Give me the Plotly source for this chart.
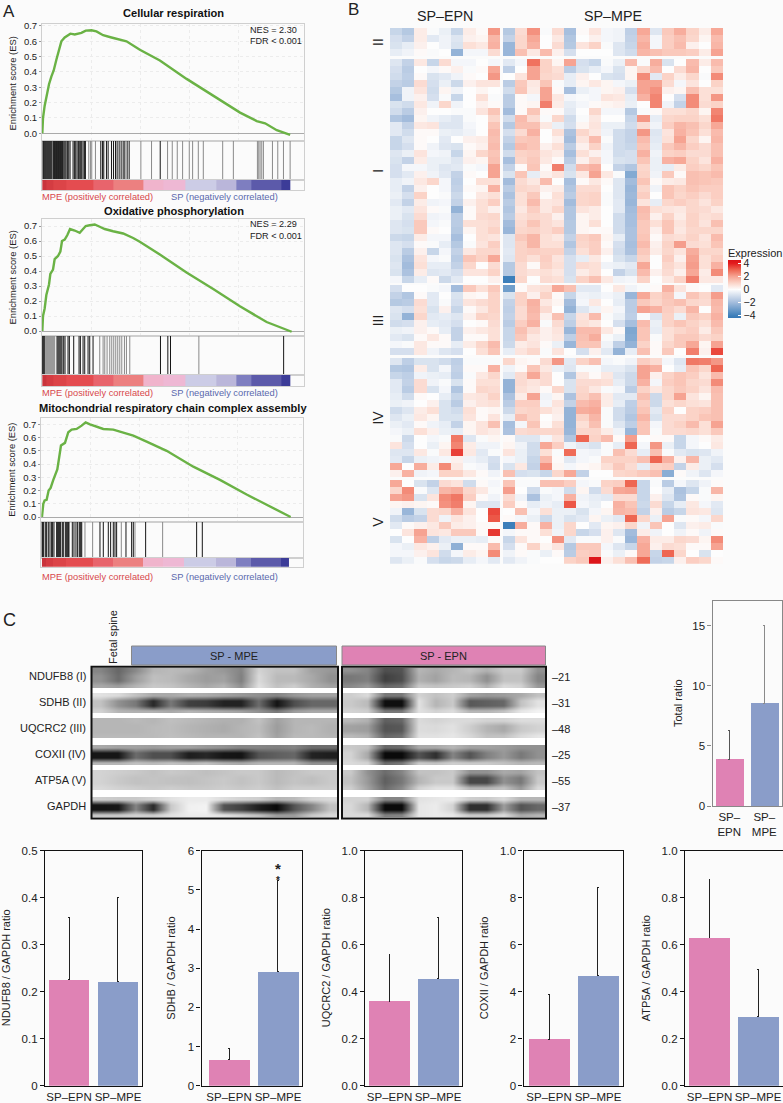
import plotly.graph_objects as go

W, H = 783, 1103
BG = "#fbfbfb"
FONT = "Liberation Sans"
PINK, BLUE = "#df82b4", "#8a9dc9"

# ---------- Panel A data ----------
es_titles = ["Cellular respiration", "Oxidative phosphorylation", "Mitochondrial respiratory chain complex assembly"]
es_nes = ["NES = 2.30", "NES = 2.29", ""]
es_fdr = ["FDR < 0.001", "FDR < 0.001", ""]

es1_rank = [0,2,7,12,20,27,34,42,50,57,67,84,97,117,130,147,162,182,207,237,252,292,352,432,512,592,642,667,702,742]
es1_val = [0,.10,.18,.24,.32,.37,.41,.48,.54,.60,.625,.65,.645,.655,.67,.672,.665,.64,.625,.605,.60,.545,.475,.355,.245,.135,.08,.065,.02,-.01]
es2_rank = [0,2,7,12,20,24,32,37,47,54,59,67,75,83,97,112,122,130,142,157,172,187,212,242,272,292,352,432,512,592,672,722,747]
es2_val = [0,.10,.15,.24,.31,.38,.41,.48,.50,.53,.60,.61,.64,.68,.67,.655,.68,.70,.705,.71,.695,.68,.665,.65,.62,.595,.51,.39,.28,.165,.06,.015,-.005]
es3_rank = [0,4,8,14,20,26,34,39,46,51,57,69,79,89,104,119,131,144,164,184,214,244,274,314,374,454,534,614,674,746]
es3_val = [0,.10,.125,.13,.20,.22,.28,.32,.36,.44,.54,.56,.64,.66,.665,.69,.715,.70,.68,.665,.66,.64,.615,.57,.50,.38,.28,.17,.09,0]

rug1_dark = [2,4,7,10,13,16,19,22,25,28,32,34,36,38,40,42,44,46,48,50,52,54,56,58,60,62,65,68,71,75,79,83,92,96,100,104,108,112,115,118,122,126,129,175,180,184,192,197,207,213,219,224,230,236,242,247,254,260,353]
rug1_gray = [139,144,148,159,295,327,375,389,404,420,440,450,467,482,540,572,644,648,652,657,662,689,705,722,742]
rug2_dark = [0,3,6,44,47,50,53,56,59,64,68,77,81,94,110,114,122,127,137,142,152,354,376,384,723]
rug2_gray = [10,13,16,19,22,25,28,31,34,37,172,182,187,194,202,208,214,220,226,232,238,246,252,262,469]
rug3_dark = [0,2,5,10,14,19,24,29,32,36,44,47,50,53,56,61,64,70,73,76,79,81,91,96,102,107,112,115,118,174,184,199,206,214,219,224,252,269,274,311,464,481]
rug3_gray = [120,129,152,238,279,362]

strip_edges = [0,12,32,72,152,212,302,362,427,522,582,627,717,742]
strip_metric = [6,5,4,3,2,1,0,-1,-2,-3,-4,-5,-6]
strip_colors = ["#3c3c98","#5c5aaa","#7e7ec0","#bab6da","#cccce6","#eeb8d4","#f0b4cc","#ec8080","#e8646c","#e44c50","#dc4448","#d43c42","#c9343c"]

# ---------- Panel B data: rows hand-read, 9 SP-EPN then 18 SP-MPE columns ----------
hm_II = [
[-1.2,-1.6,.4,-.1,-.4,-1.2,.4,.1,2.2,-1.6,.8,2.3,-.1,.8,-1.9,.1,.6,-.2,-.3,-1.4,1.9,-.7,1.2,1.8,1.0,.4,1.9],
[-.9,-1.3,.4,-.6,-.3,-.7,.3,.2,1.6,-1.3,.9,1.9,0,.5,-1.7,0,.3,-.2,-.3,-1.3,1.6,-.2,1.1,1.4,.9,.2,1.5],
[-.8,-.5,.3,0,-.3,-.8,.7,.5,1.7,-2.2,.9,1.7,0,.8,-1.6,.6,1,-.1,-.7,-1.2,1.8,-.2,1.1,1.5,.3,0,1.6],
[-.5,-.3,.1,-.1,0,-2.3,-.2,-.2,.8,-2.2,1.4,.5,1.5,.3,-.9,0,0,0,-.7,-1.0,1.6,1.4,1.2,1.2,1.1,.4,2.0],
]
hm_I = [
[-.7,-1.3,.5,-1.2,.8,-.2,-.2,0,-.2,-.6,-.2,2.8,1.0,.2,2.0,-.9,-1.2,-.1,-.4,1.5,-.1,1.8,-.8,0,1.5,.4,1.5],
[-.9,-1.5,0,-.2,.1,.3,-.1,.1,1.9,-1.4,0,2,1,.7,-1.5,-.8,-.5,-.2,-.8,.2,.9,1.5,0,.8,1.6,0,1.2],
[-1,-1.4,.1,-.8,-.6,-.3,.1,0,2.2,0,.6,2,.9,.8,-.5,.3,0,-.8,-.9,.2,2.4,-.6,1,.4,.9,-.1,2.4],
[-1.3,-1.5,.8,-.9,-.4,-1.1,.3,.6,.6,-1.5,1.2,.5,1.3,-.1,-.5,.2,.5,.2,-.2,-.4,2,2,.8,-.2,.6,0,1],
[-1.6,-.3,.6,-1,.2,-.3,0,.2,0,-1,1.3,.4,2,.1,-1.9,-.4,-.2,.2,.3,-.9,2.0,2.3,.3,.2,1.4,.7,.7],
[-1.9,-.3,.3,-.9,-.1,-1.2,0,.7,-.1,-1.5,.1,-.2,2,.5,-.2,-.1,-.2,.6,.5,-.5,1.7,2.5,0,-.9,2.4,.7,2.2],
[-.8,-1,.5,-.3,.9,-.3,0,.3,.1,-1.5,.1,.2,2.6,.4,-.5,-.2,.1,.2,.3,-.4,0,2.5,-.3,-1.3,2.4,.8,1],
[-1,-1.5,.3,0,0,-.1,-.1,.6,1.3,-2,.1,1.3,.1,.1,-.6,0,.9,-.2,-.2,-1.6,-.1,.1,.7,.7,.9,.2,2.5],
[-1.7,-2,.2,-.3,-.5,-.7,-.1,0,.9,-1,1.5,.8,-.1,.9,-1,-.1,.5,0,0,-1.2,2.2,-.5,.9,1,1,.7,2.7],
[-.6,-1.3,.5,.6,-.7,-.7,-.2,0,1.3,-1.6,1.4,1.4,.5,-.4,-.9,.2,.6,-.4,-.4,-1,.8,-.3,1.1,1.6,1.4,.9,1.9],
[-.6,-1,.1,.1,-.4,-.5,-.3,0,1.5,-.9,.8,1.7,0,.7,-1.8,.9,.5,-.3,-1,-1.3,2.2,-.7,.6,1.7,1.3,.7,1.5],
[-1.2,-.7,.1,0,-.6,0,.3,.4,1.4,-1.3,1.2,1.3,0,.3,-2,.6,1.5,-.1,-1,-1.3,1.5,-.6,.7,2,.9,.2,1.6],
[-1.2,-.9,.1,-.3,-.7,-.8,.1,.3,1.5,-1.6,1.5,1.3,.3,.7,-1.5,.3,1,-.3,-1,-1.2,1.3,-.5,1.2,1.6,1.1,.8,1.4],
[-.7,-.4,.6,-.2,-.3,-1.2,.2,.9,1.3,-1,1,1.1,.6,.4,-1.9,.7,.3,-.2,-1,-.9,1.7,-.3,1,1.1,.8,.8,1.4],
[-.8,-1.3,.4,-.4,-.4,-.7,.3,.2,1.4,-1.9,.9,1.2,.5,.1,-1.5,.3,.9,-.2,-.8,-.9,1.3,-.4,1.7,1.9,1,.6,1.7],
[-.9,-.2,-.2,-.4,-.7,-.6,-.1,-.2,2,-1.3,.1,1.3,.1,2.6,-1,1.5,1.7,0,-1.3,-1.7,.9,-.4,-.5,.4,1.1,.9,1.3],
[-.9,-.6,.3,-.3,-.6,-1.3,.1,0,2,-.8,1.3,-.5,.3,.6,-.8,.5,2,.5,-.1,-2.6,1,-.3,1.2,.1,1.4,1.3,1.5],
[-.5,-.3,.5,.9,-.2,-1.4,0,.7,.7,-2,.8,.5,1.5,0,-1.9,.1,.5,.1,-.7,-2,1.3,.1,.4,.5,1.4,1.3,1.2],
[-.5,-1.3,.3,0,-.2,-1.3,.1,.2,1.7,-1.5,.9,.8,.3,.4,-1.7,.8,.8,0,-.7,-2.2,.9,-.3,1.3,1,1.3,1.1,1.1],
[-.4,-.9,1,0,-.1,-1.1,0,.5,.7,-1.8,.7,1.2,.1,.7,-1.5,.9,1,-.1,-.7,-2.1,1.1,0,1.3,.9,1.1,.8,1.1],
[-.6,-1.3,.4,-.3,-.2,-1.3,.3,.7,1.1,-1.5,.7,1.5,.5,.6,-2,.9,1,-.1,-.6,-2.2,.6,-.5,.9,1.1,.9,.6,1],
[-.4,-.6,.6,.1,-.1,-2.3,.1,.7,.3,-1.7,.5,1.1,.5,.9,-1.7,.6,.4,0,-.6,-2,1.5,.7,.6,.5,.9,.8,.5],
[-.4,-.8,.8,-.3,-.2,-1.5,.1,.8,.9,-1.5,.7,.9,.8,.3,-1.7,.2,.4,0,-1,-1.9,1.4,.3,1,.4,1,.7,.8],
[-.7,-.9,1.2,-.2,-.1,-1.5,.7,.7,.8,-2,.8,1.3,.8,.6,-1.6,.2,.7,0,-1,-1.9,1.2,.7,1.3,.6,1,.6,1.4],
[-.7,-.8,1.2,.1,0,-1.6,.2,.7,1,-2.2,.9,1,.8,1.1,-1.6,.2,.1,.1,-1,-1.8,1.2,.3,1.3,.5,.9,.9,.9],
[-1.1,-1.2,.4,-.2,-.2,-1.9,0,.7,.6,-.7,1.2,1.6,.7,.5,-1.3,1,1.2,.2,-.5,-1.8,1.3,.1,.8,.7,1,.6,1.5],
[-.7,-.9,.1,-.1,-.5,-1.6,-.1,.6,1.1,-.7,1,1.6,.7,.7,-1.7,.9,1.1,.1,-.9,-1.9,1.5,.3,1,2.1,.8,.7,1.3],
[-.7,-1.5,.3,-1.2,-.2,-1.3,.5,.9,.9,-.6,1,1.1,1,1,-1.3,.7,1.1,.3,-1,-1.8,1.2,.4,.9,.6,1.8,.9,.9],
[-.8,-1.8,.6,-.2,-.1,-1.5,1.3,1,1.9,-.7,1,.7,1.1,.6,-.9,-.5,.5,0,-.8,-1.2,1,0,1.1,.3,2,.7,1.1],
[-.7,-2,.7,-.5,-.5,-1.3,.9,0,.8,-1.6,.8,.1,1,.7,-.9,.8,.7,-.3,-.4,-.6,1.9,0,.9,.6,2.1,.7,1.7],
[-.8,-1.8,.4,-.7,-.6,-.9,.6,.6,1,-1.6,.8,.6,.7,.5,-.9,.4,.7,0,-1.3,-.8,1.5,.3,.8,.3,1.9,.4,2.4],
[-.2,-1.2,-.5,.1,-1.1,-.6,0,0,.3,-4,.9,0,.8,.7,-.8,1,1.4,.5,-.3,-.2,1,0,.5,1,2.6,.5,.5],
]
hm_III = [
[-.9,0,0,-.1,-.2,-2,1.2,.7,1.2,-3,.1,.6,.7,1.9,1.4,-.6,-.6,0,.5,-.3,-.1,.1,1.7,.6,.1,0,-.6],
[-1.3,-1.7,.1,-.6,0,-.8,.2,.1,1,-.8,1,.3,1,.1,-1.2,-.3,-.4,-.2,-.4,-2.2,1.9,1,1.3,-.2,1.3,.9,2.1],
[-1.6,-1.5,.8,-.6,-.1,-.9,.6,.8,1,-1.3,1,1.7,.5,.2,-2,-.2,.5,0,-.5,-1.5,1.2,.9,1.2,1.4,.9,.8,1.6],
[-.7,-.9,.7,-.8,.3,-1.2,.1,.5,1,-1.4,.8,1.6,.8,0,-2.3,-.7,-.3,.2,-.2,-1.5,2,1.7,1.1,.8,1.6,0,1.5],
[-.8,-2.3,.9,-.6,-.5,-.7,.3,1,.9,-1.3,.8,1.5,.3,1.4,-1.2,.6,1.5,-.1,-.4,-1.4,-.1,-.7,1,-.4,1.2,1,1.7],
[-1,-.9,.3,-.5,-.6,-.9,0,.1,.8,-1.5,1.1,1.7,-.1,.8,-1.4,.7,.5,0,-.9,-1.9,1.5,-.4,1,1.3,1,.7,1.5],
[-.4,-.3,.3,.1,-.5,-1.3,.3,.5,.7,-1.2,1.4,.8,.3,.6,-2.2,1.5,1.5,.5,.1,-2.7,1.3,-.5,.7,.9,1.1,.4,1.2],
[-.6,-.8,.1,.5,.1,-1.3,.1,.1,.7,-1.2,1.2,.5,.3,.5,-1.4,1.4,1.8,-.1,-.4,-2.6,1.3,-.1,.7,1.2,1.2,.8,1],
[-.2,-.1,.5,.1,.1,-.5,.4,.9,1.5,-1.1,.4,.6,.1,-.4,-2.2,1.3,1.3,-.3,-1.4,-2.3,1,.1,.9,1.2,1.9,.2,2],
[-.9,-.9,.5,-.3,-.7,-.9,0,.7,1.3,-.5,.6,.9,-.1,.6,0,-.9,.3,-.6,-2.3,-.5,1.4,.1,1.2,0,2.6,.3,3.4],
]
hm_IV = [
[-.7,-1.4,-.8,-.8,-1,-1.4,-.1,-.1,-.1,.9,.2,.1,.8,2.2,-.6,1,1.4,-.2,-.1,-.3,1.1,.8,-.2,-.7,2.7,2.6,2.2],
[-1.6,-1.7,.4,-.8,-.2,-1.3,.1,.1,1.7,-.3,.1,1.3,.5,-.4,-.7,-.1,-.1,-.5,-.5,-.8,2,1.7,0,-.5,1.3,.9,3],
[-1.2,-1.4,-.3,-.4,-.5,-1.4,-.1,.5,.9,-.6,.8,1.9,.8,0,-1.7,.5,.1,.5,-.7,-1.1,2,.3,1,1.3,1.1,.6,1.5],
[-.6,-1.3,.8,-.3,-.1,-.8,.1,.7,.7,-2.3,.8,.6,.8,0,-.8,.8,.8,.7,-.5,-1.1,1.7,-.2,1.1,1.3,.9,.8,2.4],
[-.6,-1.5,.8,-.8,-.2,-1.7,.1,.9,.8,-2.3,.7,.5,.1,.9,-.8,.9,.5,-.1,-.2,-1.5,1,.5,.9,1.2,1,.6,1.5],
[-.5,-1,.1,0,-.5,-1.2,.5,.6,1,-1.8,.4,2,-.3,.2,-1.8,1,1.4,.4,-.6,-.6,1.4,-1.1,.9,2,.6,.2,1.4],
[-.4,-.3,0,.3,-.8,-1.5,.3,.6,.7,-1.5,1.1,1.1,-.2,.6,-1.3,1.5,1.7,.4,-.5,-1.4,1.1,-1.1,.7,.9,.7,.6,1.4],
[-1,-.7,.4,.7,-.8,-1,.7,.1,.2,-1.1,.9,1,.7,.4,-2.3,1.8,1.9,-.1,-1,-1.5,1.3,-.6,1,0,1,1.1,1.4],
[-.7,-.4,.5,.2,-.8,-.8,.6,.1,.6,-.5,1.4,1,0,.3,-2.3,1,1.6,-.1,-1,-1.7,1.6,-.8,.8,.8,1,1.3,1.4],
[-.4,-.6,.1,-.3,-.5,-1.3,.2,.6,1.4,-1.9,-.2,1.3,.1,.7,-2.3,.7,1.4,-.1,-.7,-1.4,1.3,-.2,.8,1,1.5,.7,2],
[-.2,-.4,.7,.3,-.4,-.5,.2,.6,.4,-1.8,.8,.9,.9,.9,-2.2,.9,.9,.4,-.3,-2.2,1.3,-.1,.8,.8,.9,.7,1.2],
[-.1,-1.1,0,-.2,-.1,2.7,-.7,-.1,.2,.1,-.7,-.7,-.2,.6,-1.7,3,1,1.5,.1,2.1,0,.1,.1,-1.2,-.2,.1,.4],
[.6,-.9,0,-.4,.2,2.5,.4,-.3,-.3,.2,-.3,-1,1.9,1.1,-.3,-.6,-.8,-.1,-.5,3,-.2,2.2,-.4,-1.2,-.2,0,.5],
[-.7,-.7,.5,-.1,.5,3.5,.5,-.6,-.1,.6,-.4,-1,.7,-.1,2.9,-.2,-.3,-.1,1.4,.8,-.5,1.4,-.1,-.6,-.8,-.7,-.3],
[-.6,-1.2,-.4,-.3,-.2,.3,-.3,-.5,-.9,-.2,-.4,-1.2,1.5,.1,-.6,-.2,-.1,1,1,1,1.4,3,1.7,.3,1.6,-.4,-.6],
[1.9,0,1.8,.4,2.4,.5,-.1,-.2,-1,-.8,.5,-1.3,2.3,.2,-.2,.1,.2,.7,1.2,.8,-.5,1,1.1,-1.3,.4,-.4,-.9],
[.3,1.7,-.3,-.2,1,1,.5,.1,-.3,1.4,-.9,-.8,-1.2,.9,1.9,-1.3,0,0,.9,1,1.2,1.4,-2.5,.1,-.3,-.7,-.2],
]
hm_V = [
[1.9,0,-.8,-1.3,.8,.6,-1,.1,-.2,1.3,-.1,-.1,1.4,1.4,1.1,-.2,-.1,1.0,1.1,3,-1.2,-.1,-1.5,-.2,-.7,-.3,.1],
[.9,2.4,-.1,-.7,1.6,1.8,.9,.5,-.1,2.1,0,-1,-.1,-.2,-1,.2,-1,.8,1.9,2,-1.2,0,-.5,-1.8,-1.2,-.1,1.6],
[2,2.2,-.8,.6,2.4,2.7,1.1,.1,-.3,.8,-.3,-1.8,-.4,-.2,1.7,-.3,-.5,-.6,.8,.8,-1.2,.3,-.7,-1.7,.1,-.1,.2],
[.2,.3,.2,.1,2.3,2.6,.2,-.7,-.7,1.1,.1,-.5,-.3,-.5,3.2,-.2,-.4,0,1.7,1.3,-1.1,.8,-1.2,-.5,.5,-.2,-.6],
[-.3,-2.2,-.8,.8,.9,1.7,.6,0,3.4,0,1.4,-.2,.7,-.4,-.4,-.8,-.2,.2,1.6,1.5,-1.3,.3,-1.5,-1.2,.6,.5,-.7],
[-1,-1.5,-1.3,.8,-.3,.6,.3,0,3.2,.1,-.2,-.4,-1.1,-.4,-.8,-.6,.2,-.4,-.6,3,.9,-.4,2,-.1,.1,-.2,.9],
[-.6,.1,.3,.5,1.2,.4,.3,.1,.1,-4,1.8,.1,1.7,-.4,.9,0,-.6,.2,.3,.9,-.3,1.3,0,-.7,.3,.4,-.1],
[0,.6,2,.6,.5,1.2,1.2,.1,3.6,-.2,.1,.1,.7,-.3,.9,-1.2,-.9,.3,-.7,-2,.4,-.3,0,-.3,.1,-.3,.1],
[-.8,0,1.7,-1.4,-.6,-.4,-.4,-.5,.1,-1.2,.6,.1,0,2.3,-.6,-.1,-.1,.3,-.1,-2.2,1.7,.4,.4,.9,.8,.2,2.4],
[-.2,-.4,.5,.3,-.4,-2.4,.1,.1,1.5,-.9,.1,1,.2,.6,-1.6,1.2,1.2,-.2,-.7,-1.2,1.9,.3,.8,.7,.1,.1,2],
[-.2,-.2,.3,.6,-1,-.2,.4,.2,2.4,-.3,.1,-.1,-.4,.1,-1.5,1.1,1.2,-.1,-.4,.1,1.9,-1.2,3,.9,0,-.8,0],
[-.7,-.4,-.1,-.9,-1.2,-1.1,-.5,-.2,-.6,-.6,-.3,-.1,0,0,1,1.2,4.3,.3,.7,1.4,2.9,-1.3,-1.2,.3,1.1,.9,.1],
]
hm_clusters = [hm_II, hm_I, hm_III, hm_IV, hm_V]
hm_labels = ["II", "I", "III", "IV", "V"]
for c in hm_clusters:
    for row in c:
        assert len(row) == 27, row

# ---------- Panel C data ----------
blot_proteins = ["NDUFB8 (I)", "SDHB (II)", "UQCRC2 (III)", "COXII (IV)", "ATP5A (V)", "GAPDH"]
blot_weights = ["–21", "–31", "–48", "–25", "–55", "–37"]
# darkness 0-100, three rows (above band, band, below band) per strip
blot_mpe = [
 [[50,62,48,30,28,30,38,42,50,18,25,25,38,42],[45,60,40,26,28,35,40,38,52,15,28,28,35,45],[35,40,30,22,24,30,35,30,45,12,25,20,32,38]],
 [[12,15,25,35,35,32,34,38,42,45,50,42,38,38],[25,45,55,88,55,78,80,90,90,60,96,72,62,62],[18,30,32,32,35,30,33,35,38,45,55,40,35,35]],
 [[30,30,28,30,26,28,30,32,32,25,38,30,30,30],[30,30,30,28,27,30,32,34,30,27,40,30,28,32],[28,28,28,28,26,28,30,30,30,25,38,28,28,30]],
 [[35,38,38,40,38,38,42,45,50,50,52,50,60,60],[95,95,60,72,72,92,88,95,96,70,65,62,90,92],[30,30,25,28,25,28,25,32,35,30,30,30,45,45]],
 [[18,20,22,25,22,24,26,24,22,22,28,25,22,22],[18,22,25,24,25,26,24,22,25,22,28,24,26,22],[15,18,20,22,20,22,22,20,22,20,25,20,20,20]],
 [[20,22,22,18,12,8,8,14,18,20,30,28,18,15],[96,95,50,88,22,6,5,70,78,92,100,70,50,25],[22,22,18,20,12,8,8,12,18,25,40,40,22,15]],
]
blot_epn = [
 [[45,50,72,70,30,35,30,25,32,22,22,45],[55,52,78,72,32,38,28,30,45,25,25,50],[48,42,62,58,22,25,22,20,32,15,18,42]],
 [[20,15,55,55,18,25,20,38,42,40,35,25],[22,28,98,98,12,30,22,68,65,62,25,12],[18,20,55,55,12,18,14,30,30,25,10,5]],
 [[28,32,65,62,15,18,15,15,18,18,14,14],[38,40,70,68,14,15,12,20,30,35,22,18],[28,32,62,58,12,12,10,16,25,25,15,10]],
 [[22,25,62,60,35,35,30,38,38,40,45,45],[18,35,100,100,70,85,50,70,52,42,55,45],[15,18,60,55,22,25,20,22,22,25,30,28]],
 [[22,45,60,50,25,25,22,45,45,35,38,25],[25,42,65,55,30,22,22,75,75,45,55,22],[20,38,60,48,18,12,12,30,30,25,42,15]],
 [[18,18,50,50,12,10,8,20,22,15,30,30],[16,30,100,100,10,8,18,85,85,40,70,62],[15,15,52,50,10,8,10,22,22,15,35,30]],
]
groups = ["SP–EPN", "SP–MPE"]
total_mean, total_top = [3.88, 8.55], [6.3, 15.05]
ndufb8_mean, ndufb8_top = [.225, .222], [.357, .40]
sdhb_mean, sdhb_top = [.67, 2.92], [.95, 5.23]
uqcrc2_mean, uqcrc2_top = [.36, .457], [.557, .715]
coxii_mean, coxii_top = [1.98, 4.68], [3.9, 8.45]
atp5a_mean, atp5a_top = [.63, .293], [.877, .495]

# ---------- helpers ----------
fx = lambda x: x / W
fy = lambda y: 1 - y / H
layout = dict(template="none", width=W, height=H, margin=dict(l=0, r=0, t=0, b=0, pad=0, autoexpand=False), paper_bgcolor=BG, plot_bgcolor=BG,
              showlegend=False, font=dict(family=FONT, color="#222"))
annots, shapes, traces = [], [], []
n_axes = 0

def axes(l, t, r, b, xc, yc):
    global n_axes
    n_axes += 1
    s = "" if n_axes == 1 else str(n_axes)
    layout["xaxis" + s] = dict(domain=[fx(l), fx(r)], anchor="y" + s, automargin=False, **xc)
    layout["yaxis" + s] = dict(domain=[fy(b), fy(t)], anchor="x" + s, automargin=False, **yc)
    return "x" + s, "y" + s

def text(x, y, s, size=11, anchor="center", color="#222", angle=0, bold=False):
    annots.append(dict(x=fx(x), y=fy(y), xref="paper", yref="paper", text=("<b>%s</b>" % s) if bold else s, showarrow=False,
                       xanchor=anchor, yanchor="middle", textangle=angle, font=dict(size=size, color=color, family=FONT),
                       borderpad=0, borderwidth=0))

def rect(l, t, r, b, fill="rgba(0,0,0,0)", line="#888", width=1, layer="above"):
    shapes.append(dict(type="rect", xref="paper", yref="paper", x0=fx(l), x1=fx(r), y0=fy(b), y1=fy(t),
                       fillcolor=fill, line=dict(color=line, width=width), layer=layer))

# ---------- Panel A ----------
text(3, 11, "A", 17, "left")
FRAME = "#cfcfcf"
gsea = [
 dict(l=42, r=303.5, t=24, m=141, s=180, b=190, y0=133.3, ppu=153.3, xr=[-1, 782], rank=es1_rank, val=es1_val, dark=rug1_dark, gray=rug1_gray, ty=13, ly=197),
 dict(l=42, r=304, t=219, m=336, s=375, b=386, y0=331, ppu=150, xr=[-1, 784], rank=es2_rank, val=es2_val, dark=rug2_dark, gray=rug2_gray, ty=211, ly=393),
 dict(l=41.3, r=303.3, t=417.7, m=522, s=558, b=566.7, y0=517, ppu=132.4, xr=[-2, 784], rank=es3_rank, val=es3_val, dark=rug3_dark, gray=rug3_gray, ty=408, ly=577),
]
grid_ranks = [147, 294, 441, 588]
for i, g in enumerate(gsea):
    line = dict(showline=True, linecolor=FRAME, linewidth=1, mirror=True)
    y_lo = (g["y0"] - g["m"]) / g["ppu"]
    y_hi = (g["y0"] - g["t"]) / g["ppu"]
    xa, ya = axes(g["l"], g["t"], g["r"], g["m"],
        dict(range=g["xr"], tickvals=grid_ranks, showticklabels=False, ticks="", showgrid=True, gridcolor="#ececec", griddash="dot", gridwidth=1, zeroline=False, **line),
        dict(range=[y_lo, y_hi], tickvals=[0, .1, .2, .3, .4, .5, .6, .7], tickformat=".1f", tickfont=dict(size=9.5, color="#222"), ticks="outside", ticklen=2, tickcolor="#999",
             showgrid=True, gridcolor="#ececec", griddash="dot", gridwidth=1, zeroline=True, zerolinecolor="#aaaaaa", zerolinewidth=1, **line))
    traces.append(go.Scatter(x=g["rank"], y=g["val"], mode="lines", line=dict(color="#6ab245", width=2.4), xaxis=xa, yaxis=ya, hoverinfo="skip"))
    xa, ya = axes(g["l"], g["m"], g["r"], g["s"],
        dict(range=g["xr"], showticklabels=False, ticks="", showgrid=False, zeroline=False, **line),
        dict(range=[0, 1], showticklabels=False, ticks="", showgrid=False, zeroline=False, **line))
    for hits, col in ((g["gray"], "#8a8a8a"), (g["dark"], "#161616")):
        xs, ys = [], []
        for h in hits:
            xs += [h, h, None]
            ys += [0, 1, None]
        traces.append(go.Scatter(x=xs, y=ys, mode="lines", line=dict(color=col, width=1), xaxis=xa, yaxis=ya, hoverinfo="skip"))
    xa, ya = axes(g["l"], g["s"], g["r"], g["b"],
        dict(range=g["xr"], showticklabels=False, ticks="", showgrid=False, zeroline=False, **line),
        dict(range=[0, 1], showticklabels=False, ticks="", showgrid=False, zeroline=False, **line))
    n_c = len(strip_colors) - 1
    traces.append(go.Heatmap(z=[strip_metric], x=strip_edges, y=[0, 1], zmin=-6, zmax=6, showscale=False,
                             colorscale=[[k / n_c, c] for k, c in enumerate(strip_colors)], xaxis=xa, yaxis=ya, hoverinfo="skip"))
    text((g["l"] + g["r"]) / 2 + 1, g["ty"], es_titles[i], 11.1, bold=True, color="#111")
    text(12, (g["t"] + g["m"]) / 2 + (1 if i == 0 else 0), "Enrichment score (ES)", 9.4, angle=-90)
    if es_nes[i]:
        text(250, g["t"] + 5.5, es_nes[i], 9.1, "left")
        text(250, g["t"] + 17, es_fdr[i], 9.1, "left")
    text(42, g["ly"], "MPE (positively correlated)", 9.3, "left", color="#d8484c")
    text(171, g["ly"], "SP (negatively correlated)", 9.3, "left", color="#5a68ad")

# ---------- Panel B ----------
text(348, 10, "B", 17, "left")
text(445, 16, "SP–EPN", 14.3)
text(613, 16, "SP–MPE", 14.3)
ROW_GAP, COL_GAP = 0.38, 0.24
y_edges, z_rows, pos = [0.0], [], 0.0
label_pos = []
for ci, c in enumerate(hm_clusters):
    start = pos
    for row in c:
        z_rows.append(row[:9] + [None] + row[9:])
        pos += 1
        y_edges.append(pos)
    label_pos.append((start + pos) / 2)
    if ci < len(hm_clusters) - 1:
        z_rows.append([None] * 28)
        pos += ROW_GAP
        y_edges.append(pos)
x_edges = [float(k) for k in range(10)] + [9 + COL_GAP + k for k in range(19)]
HT, HB, HL, HR = 28, 563.7, 390, 723
xa, ya = axes(HL, HT, HR, HB,
    dict(range=[0, x_edges[-1]], visible=False), dict(range=[pos, 0], visible=False))
CMIN, CMAX = -4.35, 4.5
stops = [(-4.35, "#3578b6"), (-4, "#3d7fba"), (-2, "#a3bcdc"), (-1, "#d0dcec"), (0, "#fdfdfd"), (1, "#fbd3c7"), (2, "#f6a392"), (3, "#ee6652"), (4, "#e31a1c"), (4.5, "#d91418")]
layout["coloraxis"] = dict(cmin=CMIN, cmax=CMAX, colorscale=[[(v - CMIN) / (CMAX - CMIN), c] for v, c in stops],
    colorbar=dict(x=fx(728), xanchor="left", y=fy(260), yanchor="top", lenmode="pixels", len=58, thickness=13, thicknessmode="pixels",
                  xpad=0, ypad=0, outlinewidth=0, tickvals=[-4, -2, 0, 2, 4], ticktext=["−4", "−2", "0", "2", "4"], ticks="inside", ticklen=3,
                  tickcolor="white", tickfont=dict(size=10.5, color="#222", family=FONT), bgcolor="rgba(0,0,0,0)"))
traces.append(go.Heatmap(z=z_rows, x=x_edges, y=y_edges, coloraxis="coloraxis", xaxis=xa, yaxis=ya, hoverinfo="skip"))
scale_y = (HB - HT) / pos
for lab, p in zip(hm_labels, label_pos):
    text(378, HT + p * scale_y, lab, 14, angle=-90)
text(728, 253, "Expression", 11, "left")

# ---------- Panel C: blots ----------
text(2.5, 620, "C", 18, "left")
text(113, 637, "Fetal spine", 11, angle=-90)
rect(131.5, 646, 336.5, 665, fill=BLUE)
rect(342, 646, 545.5, 665, fill=PINK)
text(234, 655.5, "SP - MPE", 11)
text(443.5, 655.5, "SP - EPN", 11)
BTOP, BBOT = 666.7, 818.5
strip_tops = [668, 693, 718, 745, 770, 797]
STRIP_H = 20
label_y = [676, 702, 728, 754, 780, 806]
weight_y = [677, 703, 729, 755, 781, 807]
gray_scale = [[0, "#ffffff"], [1, "#0a0a0a"]]
for (l, r, data) in ((91.5, 338, blot_mpe), (342, 546, blot_epn)):
    rect(l, BTOP, r, BBOT, fill="#ffffff", line="#ffffff", width=0, layer="below")
    xa, ya = axes(l, BTOP, r, BBOT,
        dict(range=[0, len(data[0][0])], visible=False), dict(range=[BBOT, BTOP], visible=False))
    for top, strip in zip(strip_tops, data):
        # the band row is doubled so the band keeps a flat, dark core under smoothing
        z_strip = [strip[0], strip[1], strip[1], strip[2]]
        traces.append(go.Heatmap(z=z_strip, x0=0.5, dx=1, y0=top + STRIP_H / 8, dy=STRIP_H / 4, zmin=0, zmax=100, zsmooth="best",
                                 colorscale=gray_scale, showscale=False, xaxis=xa, yaxis=ya, hoverinfo="skip"))
    rect(l, BTOP, r, BBOT, line="#111111", width=2)
for name, wt, y1, y2 in zip(blot_proteins, blot_weights, label_y, weight_y):
    text(86, y1, name, 11, "right")
    text(552, y2, wt, 11, "left")

# ---------- Panel C: bars ----------
def bars(L, R, T, B, c0, c1, bw, mean, top, ymax, tv, tt, title, tx, labels=groups, col="#111111", err=("#222222", "#222222"), fs=11.5):
    step = c1 - c0
    xr = [(L - c0) / step, (R - c0) / step]
    line = dict(showline=True, linecolor=col, linewidth=1.2, mirror=True)
    xa, ya = axes(L, T, R, B,
        dict(range=xr, tickvals=[0, 1], ticktext=labels, ticks="", tickfont=dict(size=fs, color="#222"), showgrid=False, zeroline=False, **line),
        dict(range=[0, ymax], tickvals=tv, ticktext=tt, ticks="outside", ticklen=4, tickcolor=col, tickfont=dict(size=fs, color="#222"), showgrid=False, zeroline=False, **line))
    for k, colr in enumerate((PINK, BLUE)):
        traces.append(go.Bar(x=[k], y=[mean[k]], width=bw / step, marker=dict(color=colr, line=dict(width=0)),
                             error_y=dict(type="data", symmetric=False, array=[top[k] - mean[k]], arrayminus=[0], color=err[k], thickness=1, width=0.8),
                             xaxis=xa, yaxis=ya, hoverinfo="skip"))
    text(tx, (T + B) / 2, title, 11, angle=-90)

bars(712.5, 781.5, 601, 806, 729.25, 764.25, 28.5, total_mean, total_top, 17.05, [0, 5, 10, 15], ["0", "5", "10", "15"], "Total ratio", 677.5,
     labels=["SP–<br>EPN", "SP–<br>MPE"], col="#888888", err=("#555555", "#8a8a8a"))
BT, BB = 850.7, 1085.7
f1 = ["0.0", "0.2", "0.4", "0.6", "0.8", "1.0"]
bars(45, 141.5, BT, BB, 69, 118, 40.5, ndufb8_mean, ndufb8_top, .5, [0, .1, .2, .3, .4, .5], ["0", "0.1", "0.2", "0.3", "0.4", "0.5"], "NDUFB8 / GAPDH ratio", 6)
bars(201.5, 301.5, BT, BB, 229, 278, 41, sdhb_mean, sdhb_top, 6, [0, 1, 2, 3, 4, 5, 6], ["0", "1", "2", "3", "4", "5", "6"], "SDHB / GAPDH ratio", 171.5)
bars(365, 461.5, BT, BB, 389.5, 438, 41, uqcrc2_mean, uqcrc2_top, 1, [0, .2, .4, .6, .8, 1], f1, "UQCRC2 / GAPDH ratio", 326)
bars(523.5, 622.5, BT, BB, 549, 598, 41, coxii_mean, coxii_top, 10, [0, 2, 4, 6, 8, 10], ["0", "2", "4", "6", "8", "1.0"], "COXII / GAPDH ratio", 484)
bars(685, 782.5, BT, BB, 709.5, 758, 41, atp5a_mean, atp5a_top, 1, [0, .2, .4, .6, .8, 1], f1, "ATP5A / GAPDH ratio", 646)
text(277.5, 873, "<span style='font-size:15px'>*</span><br><span style='font-size:10px'>*</span>", 8, bold=True)

layout["annotations"] = annots
layout["shapes"] = shapes
fig = go.Figure(data=traces, layout=layout)
fig.update_layout(barmode="overlay", bargap=0)
fig.write_html("out.html", config=dict(displayModeBar=False),
               post_script="document.body.style.margin='0';document.body.style.background='%s';" % BG)
